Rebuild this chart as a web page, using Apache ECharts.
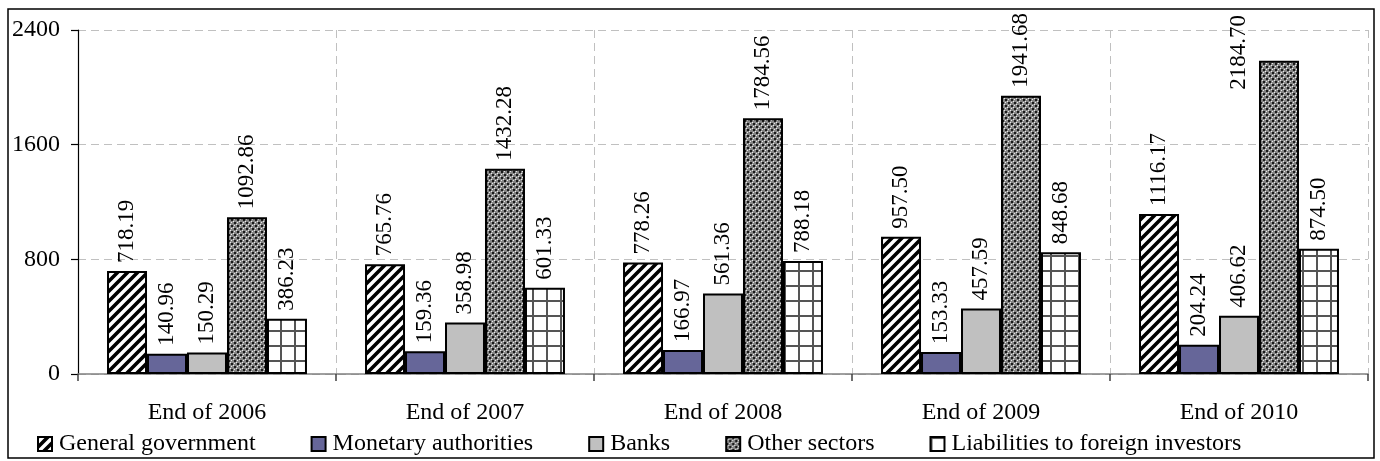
<!DOCTYPE html>
<html>
<head>
<meta charset="utf-8">
<script src="https://cdn.jsdelivr.net/npm/echarts@6/dist/echarts.min.js"></script>
<style>
html,body{margin:0;padding:0;background:#fff;}
#chart{width:1380px;height:461px;}
</style>
</head>
<body>
<div id="chart"></div>
<script>
const categories = ['End of 2006', 'End of 2007', 'End of 2008', 'End of 2009', 'End of 2010'];
const seriesNames = ['General government', 'Monetary authorities', 'Banks', 'Other sectors', 'Liabilities to foreign investors'];
const generalGovernment = [718.19, 765.76, 778.26, 957.50, 1116.17];
const monetaryAuthorities = [140.96, 159.36, 166.97, 153.33, 204.24];
const banks = [150.29, 358.98, 561.36, 457.59, 406.62];
const otherSectors = [1092.86, 1432.28, 1784.56, 1941.68, 2184.70];
const liabilities = [386.23, 601.33, 788.18, 848.68, 874.50];
const yTicks = [0, 800, 1600, 2400];

function makeCanvas(w, h, draw) {
  const c = document.createElement('canvas');
  c.width = w; c.height = h;
  const ctx = c.getContext('2d');
  draw(ctx, w, h);
  return c;
}
const stripes = makeCanvas(10, 10, (ctx, w, h) => {
  ctx.fillStyle = '#fff'; ctx.fillRect(0, 0, w, h);
  ctx.strokeStyle = '#000'; ctx.lineWidth = 3.6;
  ctx.beginPath();
  for (let k = -2; k <= 2; k++) {
    ctx.moveTo(k * 10 - 2, h + 2);
    ctx.lineTo(k * 10 + w + 2, -2);
  }
  ctx.stroke();
});
const checker = makeCanvas(6, 6, (ctx, w, h) => {
  ctx.fillStyle = '#858585'; ctx.fillRect(0, 0, w, h);
  ctx.fillStyle = '#1a1a1a';
  ctx.fillRect(0, 0, 2, 2); ctx.fillRect(3, 3, 2, 2);
  ctx.fillStyle = '#e8e8e8';
  ctx.fillRect(0, 3, 1, 1); ctx.fillRect(3, 0, 1, 1);
  ctx.fillRect(2, 2, 1, 1); ctx.fillRect(5, 5, 1, 1);
});
const grid = makeCanvas(14, 15, (ctx, w, h) => {
  ctx.fillStyle = '#fff'; ctx.fillRect(0, 0, w, h);
  ctx.fillStyle = '#555';
  ctx.fillRect(0, 0, 2, h); ctx.fillRect(0, 0, w, 2);
});

const fills = [
  { image: stripes, repeat: 'repeat' },
  '#666699',
  '#C0C0C0',
  { image: checker, repeat: 'repeat' },
  { image: grid, repeat: 'repeat' }
];
const values = [generalGovernment, monetaryAuthorities, banks, otherSectors, liabilities];

const FONT = '"Liberation Serif", "Times New Roman", serif';

const series = seriesNames.map((name, si) => ({
  name: name,
  type: 'bar',
  barGap: '0%',
  barCategoryGap: '22.5%',
  itemStyle: { color: fills[si], borderColor: '#000', borderWidth: 2 },
  label: {
    show: true,
    position: 'top',
    distance: 8,
    rotate: 90,
    align: 'left',
    verticalAlign: 'middle',
    fontFamily: FONT,
    fontSize: 23,
    color: '#000',
    formatter: p => Number(p.value).toFixed(2)
  },
  data: values[si].map((v, i) => (si === 3 && i === 4)
    ? { value: v, label: { position: [-20, 29] } }
    : v)
}));

const chart = echarts.init(document.getElementById('chart'));
chart.setOption({
  animation: false,
  backgroundColor: '#fff',
  grid: { left: 78, right: 12, top: 30, bottom: 87 },
  legend: {
    data: seriesNames,
    left: 32, top: 427,
    itemWidth: 14, itemHeight: 14, itemGap: 55,
    icon: 'rect',
    textStyle: { fontFamily: FONT, fontSize: 24, color: '#000', padding: [0, 0, 0, 2] }
  },
  xAxis: {
    type: 'category',
    data: categories,
    axisLine: { lineStyle: { color: '#808080', width: 1.5 } },
    axisTick: { show: true, length: 7, lineStyle: { color: '#404040', width: 1.5 } },
    axisLabel: { fontFamily: FONT, fontSize: 24, color: '#000', margin: 27 },
    splitLine: { show: true, lineStyle: { color: '#c0c0c0', type: [8, 5], width: 1 } }
  },
  yAxis: {
    type: 'value',
    min: yTicks[0], max: yTicks[yTicks.length - 1], interval: yTicks[1] - yTicks[0],
    axisLine: { show: true, lineStyle: { color: '#000', width: 1.2 } },
    axisTick: { show: true, length: 7, lineStyle: { color: '#000', width: 1.2 } },
    axisLabel: { fontFamily: FONT, fontSize: 24, color: '#000', margin: 18, formatter: v => String(v) },
    splitLine: { show: true, lineStyle: { color: '#c0c0c0', type: [8, 5], width: 1 } }
  },
  graphic: [{
    type: 'rect',
    shape: { x: 8, y: 9, width: 1366, height: 449 },
    style: { fill: null, stroke: '#000', lineWidth: 1.5 },
    silent: true,
    z: 100
  }],
  series: series
});
</script>
</body>
</html>
